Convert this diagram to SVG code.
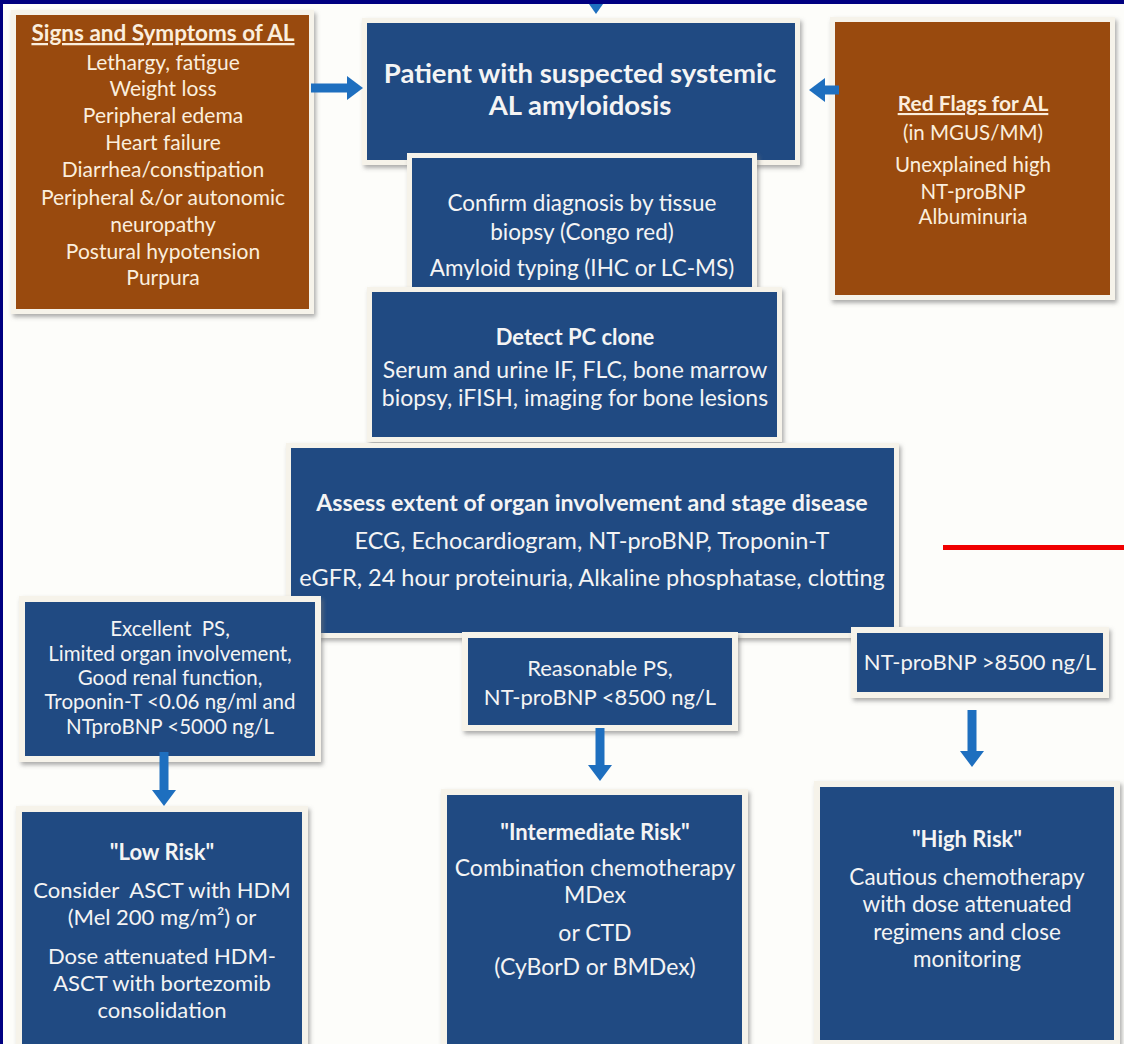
<svg xmlns="http://www.w3.org/2000/svg" width="1124" height="1044" viewBox="0 0 1124 1044">
<defs>
<filter id="sh" x="-10%" y="-10%" width="120%" height="120%">
<feDropShadow dx="2" dy="3" stdDeviation="2" flood-color="#777" flood-opacity="0.6"/>
</filter>
<marker id="ah" markerUnits="userSpaceOnUse" markerWidth="16" markerHeight="24" refX="2" refY="12" orient="auto">
<path d="M0,0 L16,12 L0,24 Z" fill="#1e6fbf"/>
</marker>
<style>
.frame{fill:#f6f3ea;filter:url(#sh)}
.navy{fill:#204a82}
.brown{fill:#994a0e}
text{font-family:Lato,"Open Sans","Liberation Sans",sans-serif;text-anchor:middle;fill:#f4f4f4}
.br text{fill:#fbeedd}
.b{font-weight:bold}
.u{text-decoration:underline}
.conn line{stroke:#1e6fbf;stroke-width:9;marker-end:url(#ah)}
</style>
</defs>
<rect x="0" y="0" width="1124" height="1044" fill="#fdfdfa"/>
<rect x="0" y="0" width="1124" height="4" fill="#000080"/>
<rect x="0" y="0" width="3" height="1044" fill="#000080"/>

<g id="signs" class="br" font-size="21">
<rect class="frame" x="11" y="10" width="303" height="304"/>
<rect class="brown" x="16" y="15" width="293" height="294"/>
<text x="163" y="41" class="b u" font-size="22.5">Signs and Symptoms of AL</text>
<text x="163" y="70">Lethargy, fatigue</text>
<text x="163" y="96">Weight loss</text>
<text x="163" y="123">Peripheral edema</text>
<text x="163" y="150">Heart failure</text>
<text x="163" y="177">Diarrhea/constipation</text>
<text x="163" y="205">Peripheral &amp;/or autonomic</text>
<text x="163" y="232">neuropathy</text>
<text x="163" y="259">Postural hypotension</text>
<text x="163" y="285">Purpura</text>
</g>

<g id="redflags" class="br" font-size="20.5">
<rect class="frame" x="830" y="17" width="285" height="283"/>
<rect class="brown" x="835" y="22" width="275" height="273"/>
<text x="973" y="111" class="b u" font-size="21">Red Flags for AL</text>
<text x="973" y="140">(in MGUS/MM)</text>
<text x="973" y="172">Unexplained high</text>
<text x="973" y="199">NT-proBNP</text>
<text x="973" y="224">Albuminuria</text>
</g>

<g id="patient">
<rect class="frame" x="362" y="18" width="438" height="147"/>
<rect class="navy" x="367" y="23" width="428" height="137"/>
<text x="580" y="83" class="b" font-size="27.5">Patient with suspected systemic</text>
<text x="580" y="115" class="b" font-size="27.5">AL amyloidosis</text>
</g>

<g id="confirm" font-size="22.5">
<rect class="frame" x="407" y="153" width="350" height="140"/>
<rect class="navy" x="412" y="158" width="340" height="130"/>
<text x="582" y="211">Confirm diagnosis by tissue</text>
<text x="582" y="240">biopsy (Congo red)</text>
<text x="582" y="276">Amyloid typing (IHC or LC-MS)</text>
</g>

<g id="detect" font-size="23">
<rect class="frame" x="367" y="287" width="415" height="155"/>
<rect class="navy" x="372" y="292" width="405" height="145"/>
<text x="575" y="345" class="b" font-size="22">Detect PC clone</text>
<text x="575" y="378">Serum and urine IF, FLC, bone marrow</text>
<text x="575" y="406">biopsy, iFISH, imaging for bone lesions</text>
</g>

<g id="assess" font-size="23.5">
<rect class="frame" x="286" y="443" width="613" height="195"/>
<rect class="navy" x="291" y="448" width="603" height="185"/>
<text x="592" y="511" class="b" font-size="23.2">Assess extent of organ involvement and stage disease</text>
<text x="592" y="549">ECG, Echocardiogram, NT-proBNP, Troponin-T</text>
<text x="592" y="586">eGFR, 24 hour proteinuria, Alkaline phosphatase, clotting</text>
</g>

<g id="excellent" font-size="20.5">
<rect class="frame" x="19" y="596" width="302" height="166"/>
<rect class="navy" x="25" y="602" width="290" height="154"/>
<text x="170" y="636" xml:space="preserve">Excellent  PS,</text>
<text x="170" y="661">Limited organ involvement,</text>
<text x="170" y="685">Good renal function,</text>
<text x="170" y="709">Troponin-T &lt;0.06 ng/ml and</text>
<text x="170" y="734">NTproBNP &lt;5000 ng/L</text>
</g>

<g id="reasonable" font-size="22">
<rect class="frame" x="462" y="632" width="276" height="99"/>
<rect class="navy" x="468" y="638" width="264" height="87"/>
<text x="600" y="676">Reasonable PS,</text>
<text x="600" y="705">NT-proBNP &lt;8500 ng/L</text>
</g>

<g id="ntprobnp" font-size="22">
<rect class="frame" x="851" y="627" width="258" height="71"/>
<rect class="navy" x="857" y="633" width="246" height="59"/>
<text x="980" y="670">NT-proBNP &gt;8500 ng/L</text>
</g>

<g id="lowrisk" font-size="22">
<rect class="frame" x="16" y="806" width="292" height="250"/>
<rect class="navy" x="22" y="812" width="280" height="240"/>
<text x="162" y="860" class="b" font-size="22">"Low Risk"</text>
<text x="162" y="898" xml:space="preserve">Consider  ASCT with HDM</text>
<text x="162" y="925">(Mel 200 mg/m²) or</text>
<text x="162" y="964">Dose attenuated HDM-</text>
<text x="162" y="991">ASCT with bortezomib</text>
<text x="162" y="1018">consolidation</text>
</g>

<g id="intermediate" font-size="23">
<rect class="frame" x="441" y="789" width="307" height="267"/>
<rect class="navy" x="447" y="795" width="295" height="257"/>
<text x="595" y="840" class="b" font-size="22">"Intermediate Risk"</text>
<text x="595" y="876">Combination chemotherapy</text>
<text x="595" y="903">MDex</text>
<text x="595" y="941">or CTD</text>
<text x="595" y="975">(CyBorD or BMDex)</text>
</g>

<g id="highrisk" font-size="22.5">
<rect class="frame" x="814" y="781" width="306" height="265"/>
<rect class="navy" x="820" y="787" width="294" height="253"/>
<text x="967" y="847" class="b" font-size="22">"High Risk"</text>
<text x="967" y="885">Cautious chemotherapy</text>
<text x="967" y="912">with dose attenuated</text>
<text x="967" y="940">regimens and close</text>
<text x="967" y="967">monitoring</text>
</g>

<g id="connectors" class="conn">
<line x1="311" y1="88" x2="349" y2="88"/>
<line x1="839" y1="90" x2="823" y2="90"/>
<line x1="164" y1="752" x2="164" y2="792"/>
<line x1="600" y1="728" x2="600" y2="767"/>
<line x1="972" y1="710" x2="972" y2="753"/>
<path d="M589,4 L603,4 L596,14 Z" fill="#1e6fbf"/>
</g>

<rect id="redline" x="943" y="545" width="181" height="5" fill="#f00000"/>
</svg>
